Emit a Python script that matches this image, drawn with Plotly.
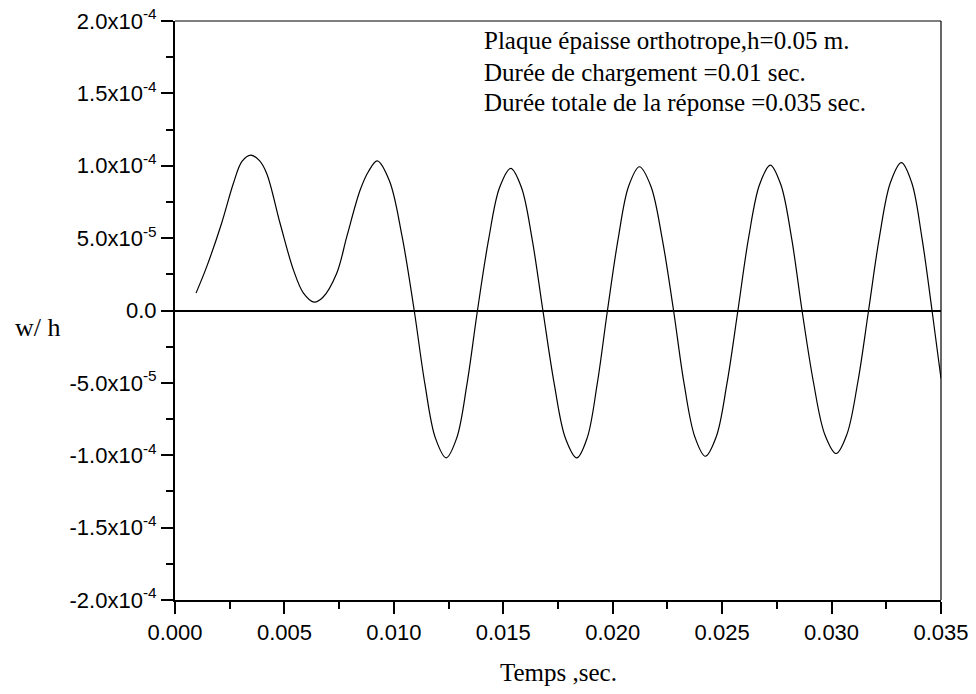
import plotly.graph_objects as go

# Data
time_s = [0.00096, 0.00145, 0.00213, 0.00267, 0.00306, 0.00346, 0.00386, 0.00419, 0.0048, 0.00541,
          0.00587, 0.00635, 0.00675, 0.00739, 0.00785, 0.00846, 0.00884, 0.00924,
          0.0098, 0.01037, 0.01093, 0.01142, 0.0119, 0.01239, 0.01287, 0.01334, 0.01382,
          0.01433, 0.01483, 0.01534, 0.01583, 0.01632, 0.01681, 0.01733, 0.01784, 0.01836,
          0.01883, 0.01929, 0.01976, 0.02025, 0.02073, 0.02122, 0.02174, 0.02226, 0.02278,
          0.02326, 0.02375, 0.02423, 0.02473, 0.02522, 0.02572, 0.02621, 0.02671, 0.0272,
          0.02768, 0.02817, 0.02865, 0.02917, 0.02969, 0.03021, 0.0307, 0.0312, 0.03169,
          0.03219, 0.03269, 0.03319, 0.03366, 0.03412, 0.03459, 0.035]
w_over_h = [1.2e-5, 3.03e-5, 6.03e-5, 8.79e-5, 1.03e-4, 1.074e-4, 1.035e-4, 9.47e-5, 6.03e-5, 2.81e-5,
            1.2e-5, 5.8e-6, 9.0e-6, 2.58e-5, 5.1e-5, 8.32e-5, 9.6e-5, 1.034e-4,
            8.95e-5, 5.17e-5, 0.0, -5.09e-5, -8.82e-5, -1.018e-4, -8.82e-5, -5.09e-5, 0.0,
            4.91e-5, 8.5e-5, 9.82e-5, 8.5e-5, 4.91e-5, 0.0, -5.09e-5, -8.82e-5, -1.018e-4,
            -8.82e-5, -5.09e-5, 0.0, 4.97e-5, 8.6e-5, 9.93e-5, 8.6e-5, 4.97e-5, 0.0,
            -5.04e-5, -8.72e-5, -1.007e-4, -8.72e-5, -5.04e-5, 0.0, 5.03e-5, 8.7e-5, 1.005e-4,
            8.7e-5, 5.03e-5, 0.0, -4.94e-5, -8.56e-5, -9.88e-5, -8.56e-5, -4.94e-5, 0.0,
            5.11e-5, 8.84e-5, 1.021e-4, 8.84e-5, 5.11e-5, 0.0, -4.7e-5]

x_ticks = [0.000, 0.005, 0.010, 0.015, 0.020, 0.025, 0.030, 0.035]
x_ticklabels = ["0.000", "0.005", "0.010", "0.015", "0.020", "0.025", "0.030", "0.035"]
x_minor = [0.0025, 0.0075, 0.0125, 0.0175, 0.0225, 0.0275, 0.0325]
y_ticks = [-2e-4, -1.5e-4, -1e-4, -5e-5, 0, 5e-5, 1e-4, 1.5e-4, 2e-4]
y_ticklabels = ["-2.0x10<sup>-4</sup>", "-1.5x10<sup>-4</sup>", "-1.0x10<sup>-4</sup>",
                "-5.0x10<sup>-5</sup>", "0.0", "5.0x10<sup>-5</sup>", "1.0x10<sup>-4</sup>",
                "1.5x10<sup>-4</sup>", "2.0x10<sup>-4</sup>"]
y_minor = [-1.75e-4, -1.25e-4, -7.5e-5, -2.5e-5, 2.5e-5, 7.5e-5, 1.25e-4, 1.75e-4]

info_lines = ["Plaque épaisse orthotrope,h=0.05 m.",
              "Durée de chargement =0.01 sec.",
              "Durée totale de la réponse =0.035 sec."]
info_y = [0.9663, 0.9119, 0.8601]

fig = go.Figure()
fig.add_trace(go.Scatter(x=time_s, y=w_over_h, mode="lines",
                         line=dict(color="black", width=1.2, shape="spline", smoothing=1.0),
                         showlegend=False, hoverinfo="skip"))

tickfont = dict(family="Liberation Sans, Arial, sans-serif", size=22, color="black")
serif = "Liberation Serif, Times New Roman, serif"

fig.update_layout(
    width=976, height=694,
    margin=dict(l=175, r=35, t=21, b=94),
    paper_bgcolor="white", plot_bgcolor="white",
    showlegend=False,
    xaxis=dict(range=[0, 0.035], showgrid=False, zeroline=False, automargin=False,
               showline=True, linecolor="black", linewidth=2, mirror=False,
               tickmode="array", tickvals=x_ticks, ticktext=x_ticklabels,
               ticks="outside", ticklen=12, tickwidth=2, tickcolor="black",
               tickfont=tickfont, ticklabeloverflow="allow",
               minor=dict(tickmode="array", tickvals=x_minor, ticks="outside",
                          ticklen=7, tickwidth=2, tickcolor="black", showgrid=False)),
    yaxis=dict(range=[-2e-4, 2e-4], showgrid=False, automargin=False,
               zeroline=True, zerolinecolor="black", zerolinewidth=2,
               showline=True, linecolor="black", linewidth=2, mirror=False,
               tickmode="array", tickvals=y_ticks, ticktext=y_ticklabels,
               ticks="outside", ticklen=12, tickwidth=2, tickcolor="black",
               tickfont=tickfont, ticklabeloverflow="allow",
               minor=dict(tickmode="array", tickvals=y_minor, ticks="outside",
                          ticklen=7, tickwidth=2, tickcolor="black", showgrid=False)),
    shapes=[
        dict(type="line", xref="paper", yref="paper", x0=0, x1=1, y0=1, y1=1,
             line=dict(color="black", width=1.2)),
        dict(type="line", xref="paper", yref="paper", x0=1, x1=1, y0=0, y1=1,
             line=dict(color="black", width=1.2)),
    ],
)

for line_text, ypos in zip(info_lines, info_y):
    fig.add_annotation(text=line_text, xref="paper", yref="paper",
                       x=0.4004, y=ypos, xanchor="left", yanchor="middle", align="left",
                       showarrow=False, font=dict(family=serif, size=25, color="black"))
fig.add_annotation(text="Temps ,sec.", xref="paper", yref="paper",
                   x=0.5, y=0, yshift=-72, xanchor="center", yanchor="middle",
                   showarrow=False, font=dict(family=serif, size=25, color="black"))
fig.add_annotation(text="w/ h", xref="paper", yref="paper",
                   x=0, y=0.4703, xshift=-162, xanchor="left", yanchor="middle",
                   showarrow=False, font=dict(family=serif, size=26, color="black"))

fig.write_html("out.html",
               config={"displayModeBar": False},
               post_script="document.body.style.margin='0';document.body.style.padding='0';"
                           "document.body.style.overflow='hidden';")
